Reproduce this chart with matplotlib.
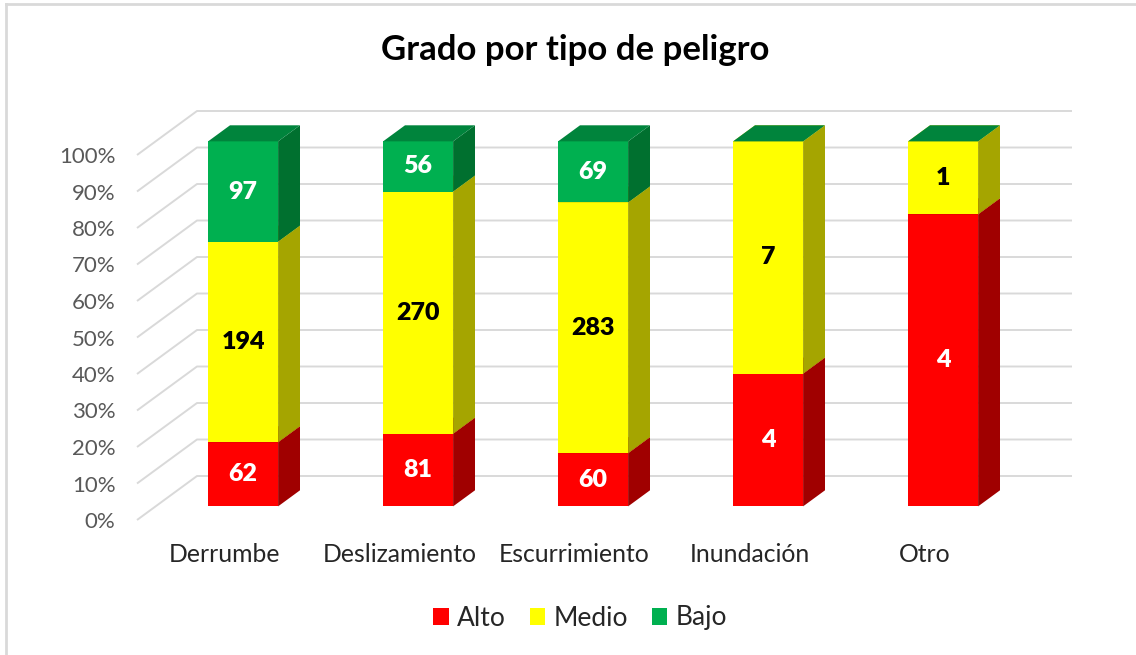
import matplotlib
matplotlib.use('Agg')
import matplotlib.pyplot as plt
from matplotlib.patches import Polygon, Rectangle
from matplotlib.lines import Line2D

# ---------------- data ----------------
categories = ['Derrumbe', 'Deslizamiento', 'Escurrimiento', 'Inundación', 'Otro']
series_names = ['Alto', 'Medio', 'Bajo']
alto = [62, 81, 60, 4, 4]
medio = [194, 270, 283, 7, 1]
bajo = [97, 56, 69, 0, 0]
yticks = [0, 10, 20, 30, 40, 50, 60, 70, 80, 90, 100]
ytick_labels = ['0%', '10%', '20%', '30%', '40%', '50%', '60%', '70%', '80%', '90%', '100%']
title = 'Grado por tipo de peligro'

# ---------------- style ----------------
front_colors = ['#FF0000', '#FFFF00', '#00B050']
side_colors = ['#A00000', '#A5A500', '#00702F']
top_colors = ['#C80000', '#D0D000', '#00843C']
label_colors = ['white', 'black', 'white']
grid_color = '#D9D9D9'
FONT = 'Lato'
plt.rcParams['font.family'] = [FONT, 'DejaVu Sans']

W, H = 1136, 655
fig = plt.figure(figsize=(W / 100, H / 100), dpi=100)
fig.patch.set_facecolor('white')

# axes placement (pixels): front-left plane x=137, back wall right x=1072
ax_left, ax_right, ax_top, ax_bottom = 137, 1072, 110, 520
ax = fig.add_axes([ax_left / W, 1 - ax_bottom / H,
                   (ax_right - ax_left) / W, (ax_bottom - ax_top) / H])
px_per_cat = 175.0
px_per_pct = 3.65
ax.set_xlim(-0.5, -0.5 + (ax_right - ax_left) / px_per_cat)
ax.set_ylim(0, (ax_bottom - ax_top) / px_per_pct)
for s in ax.spines.values():
    s.set_visible(False)
ax.patch.set_visible(False)

# 3D depth vector (front plane -> back wall)
depth_x = 60 / px_per_cat
depth_y = 44 / px_per_pct


def proj(x, y, d):
    return (x + d * depth_x, y + d * depth_y)


xmax = ax.get_xlim()[1]
# gridlines: left wall diagonal + back wall horizontal
for t in yticks:
    p0 = proj(-0.5, t, 0)
    p1 = proj(-0.5, t, 1)
    ax.add_line(Line2D([p0[0], p1[0], xmax], [p0[1], p1[1], p1[1]],
                       color=grid_color, lw=1.4, zorder=1, clip_on=False,
                       solid_capstyle='butt'))

# y tick labels on the front plane
ax.set_yticks(yticks)
ax.set_yticklabels(ytick_labels, fontsize=16, color='#595959')
ax.tick_params(axis='y', length=0, pad=15.5)
ax.set_xticks([])

# bars
d0, d1 = 0.31, 0.675
half = 0.2
series = [alto, medio, bajo]
for i, cat in enumerate(categories):
    total = sum(s[i] for s in series)
    bottom = 0.0
    for k, s in enumerate(series):
        pct = 100.0 * s[i] / total
        y0, y1 = bottom, bottom + pct
        # front face
        fx, fy = proj(i - half, y0, d0)
        ax.add_patch(Rectangle((fx, fy), 2 * half, pct, facecolor=front_colors[k],
                               edgecolor='none', zorder=3))
        # side face
        side = [proj(i + half, y0, d0), proj(i + half, y0, d1),
                proj(i + half, y1, d1), proj(i + half, y1, d0)]
        ax.add_patch(Polygon(side, closed=True, facecolor=side_colors[k],
                             edgecolor='none', zorder=3))
        # top face
        top = [proj(i - half, y1, d0), proj(i + half, y1, d0),
               proj(i + half, y1, d1), proj(i - half, y1, d1)]
        ax.add_patch(Polygon(top, closed=True, facecolor=top_colors[k],
                             edgecolor='none', zorder=3))
        if s[i] > 0:
            lx, ly = proj(i, (y0 + y1) / 2, d0)
            ax.text(lx, ly, str(s[i]), ha='center', va='center',
                    fontsize=18, fontweight='heavy', color=label_colors[k], zorder=5)
        bottom = y1
    # category label
    ax.text(i, -(555 - ax_bottom) / px_per_pct, cat, ha='center', va='center',
            fontsize=17.8, color='#262626', clip_on=False)

# title
fig.text(575 / W, 1 - 50 / H, title, ha='center', va='center',
         fontsize=25, fontweight='bold', color='black')

# legend
handles = [Rectangle((0, 0), 1, 1, facecolor=c, edgecolor='none') for c in front_colors]
fig.legend(handles, series_names, loc='center', bbox_to_anchor=(580 / W, 1 - 618 / H),
           ncol=3, frameon=False, fontsize=19, handlelength=0.6, handleheight=0.6,
           handletextpad=0.3, columnspacing=0.9, labelcolor='#262626')

# chart-area border (top and left edges visible)
fig.add_artist(Line2D([6 / W, 1], [1 - 4 / H, 1 - 4 / H], color=grid_color, lw=2,
                      transform=fig.transFigure))
fig.add_artist(Line2D([6 / W, 6 / W], [0, 1 - 4 / H], color=grid_color, lw=2,
                      transform=fig.transFigure))

fig.savefig('out.png', dpi=100)
